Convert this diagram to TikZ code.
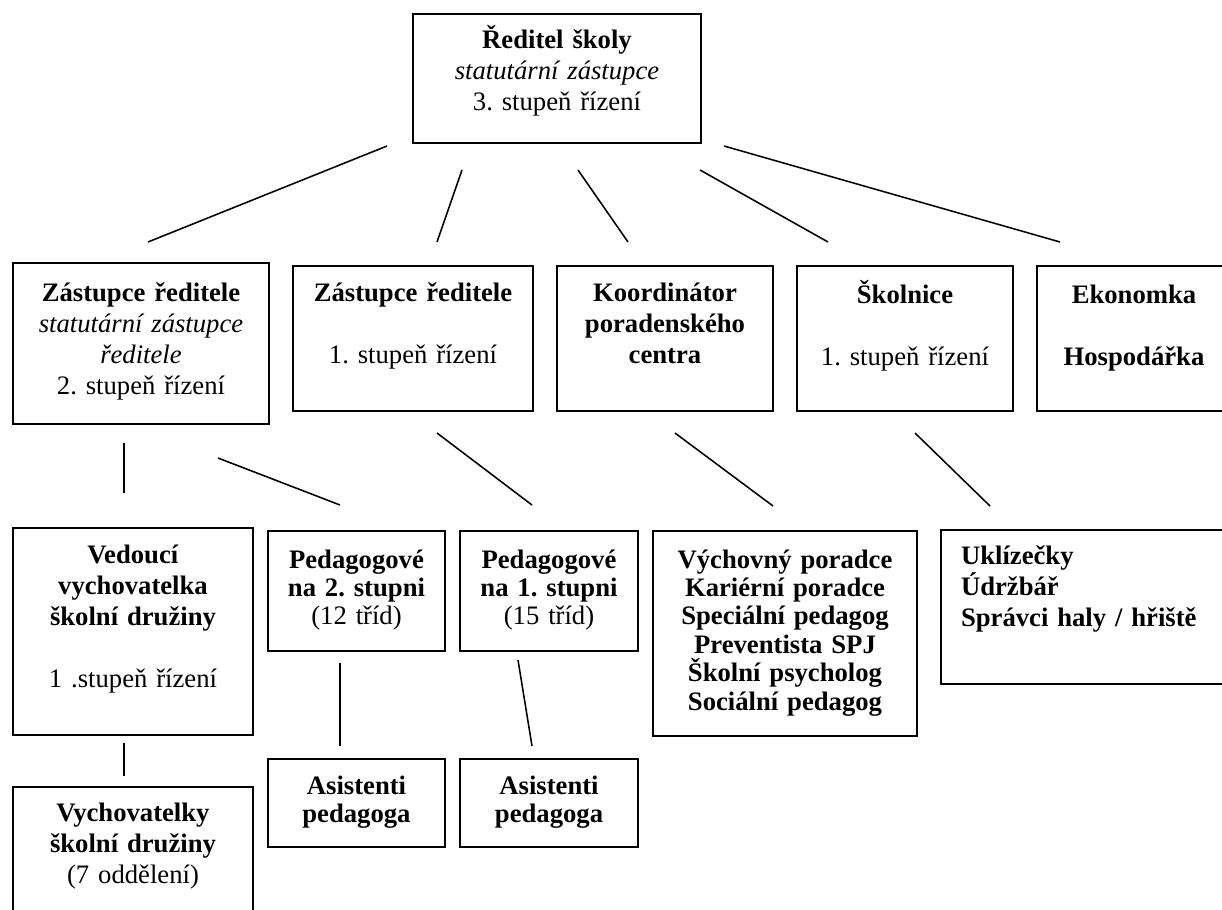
\documentclass[tikz,border=0pt]{standalone}
\usepackage{fontspec}
\setmainfont{Liberation Serif}
\frenchspacing

\tikzset{
  orgbox/.style={draw, line width=0.9pt, anchor=north west, align=center,
    inner xsep=0pt, inner ysep=0pt, font=\fontsize{12pt}{14pt}\selectfont},
  tightbox/.style={font=\fontsize{12pt}{12.8pt}\selectfont},
  conn/.style={line width=0.7pt},
}

\begin{document}
\begin{tikzpicture}[x=0.45pt, y=-0.45pt]
\useasboundingbox (0,0) rectangle (1222,909);

% vedeni skoly
\node[orgbox, text width=129.6pt, text height=15.3pt, text depth=42.75pt] (reditel) at (412,13)
  {\textbf{Ředitel školy}\\ \textit{statutární zástupce}\\ 3. stupeň řízení};

% druha uroven
\node[orgbox, text width=115.2pt, text height=17.1pt, text depth=55.35pt] (zastupceA) at (12,262)
  {\textbf{Zástupce ředitele}\\ \textit{statutární zástupce}\\ \textit{ředitele}\\ 2. stupeň řízení};
\node[orgbox, text width=108pt, text height=15.75pt, text depth=49.5pt] (zastupceB) at (292,265)
  {\textbf{Zástupce ředitele}\\[14pt] 1. stupeň řízení};
\node[orgbox, text width=97.2pt, text height=15.75pt, text depth=49.5pt] (koordinator) at (556,265)
  {\textbf{Koordinátor}\\ \textbf{poradenského}\\ \textbf{centra}};
\node[orgbox, text width=97.2pt, text height=16.65pt, text depth=48.6pt] (skolnice) at (796,265)
  {\textbf{Školnice}\\[14pt] 1. stupeň řízení};
\node[orgbox, text width=87.3pt, text height=16.65pt, text depth=48.6pt] (ekonomka) at (1036,265)
  {\textbf{Ekonomka}\\[14pt] \textbf{Hospodářka}};

% treti uroven
\node[orgbox, text width=108pt, text height=15.75pt, text depth=77.4pt] (vedouci) at (12,527)
  {\textbf{Vedoucí}\\ \textbf{vychovatelka}\\ \textbf{školní družiny}\\[14pt] 1 .stupeň řízení};
\node[orgbox, tightbox, text width=79.65pt, text height=16.65pt, text depth=37.35pt] (pedagog2) at (267,530)
  {\textbf{Pedagogové}\\ \textbf{na 2. stupni}\\ (12 tříd)};
\node[orgbox, tightbox, text width=80.1pt, text height=16.65pt, text depth=37.35pt] (pedagog1) at (459,530)
  {\textbf{Pedagogové}\\ \textbf{na 1. stupni}\\ (15 tříd)};
\node[orgbox, tightbox, text width=118.8pt, text height=16.65pt, text depth=75.6pt] (poradci) at (652,530)
  {\textbf{Výchovný poradce}\\ \textbf{Kariérní poradce}\\ \textbf{Speciální pedagog}\\
   \textbf{Preventista SPJ}\\ \textbf{Školní psycholog}\\ \textbf{Sociální pedagog}};
\node[orgbox, align=left, inner xsep=9pt, text width=130pt, text height=15.3pt, text depth=54pt] (uklid) at (940,529)
  {\textbf{Uklízečky}\\ \textbf{Údržbář}\\ \textbf{Správci haly / hřiště}};

% ctvrta uroven
\node[orgbox, text width=108pt, text height=15.3pt, text depth=47.7pt] (vychovatelky) at (12,786)
  {\textbf{Vychovatelky}\\ \textbf{školní družiny}\\ (7 oddělení)};
\node[orgbox, tightbox, text width=79.65pt, text height=15.75pt, text depth=23.85pt] (asistenti2) at (267,758)
  {\textbf{Asistenti}\\ \textbf{pedagoga}};
\node[orgbox, tightbox, text width=80.1pt, text height=15.75pt, text depth=23.85pt] (asistenti1) at (459,758)
  {\textbf{Asistenti}\\ \textbf{pedagoga}};

% spojnice (volne cary mezi ramecky)
\foreach \n/\ax/\ay/\bx/\by in {
    1/387/146/148/242, 2/462/170/437/242, 3/578/170/628/242,
    4/700/170/828/242, 5/724/146/1060/242,
    6/124/443/124/493, 7/218/458/340/505, 8/437/433/532/505,
    9/675/433/773/506, 10/915/433/990/506,
    11/124/743/124/776, 12/340/663/340/746, 13/518/660/532/746}
{
  \coordinate (p\n) at (\ax,\ay);
  \coordinate (q\n) at (\bx,\by);
  \draw[conn] (p\n) -- (q\n);
}
\end{tikzpicture}
\end{document}
